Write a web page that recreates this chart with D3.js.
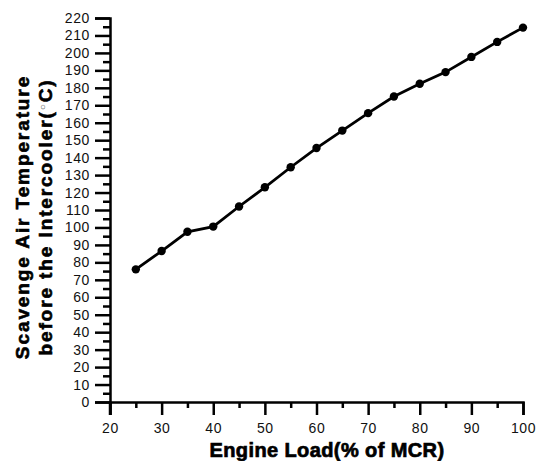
<!DOCTYPE html>
<html>
<head>
<meta charset="utf-8">
<script src="https://cdn.jsdelivr.net/npm/d3@7"></script>
<style>
  body { margin:0; background:#fff; }
  text { font-family: "Liberation Sans", Arial, sans-serif; }
</style>
</head>
<body>
<div id="chart"></div>
<script>
// data
var loads = [25, 30, 35, 40, 45, 50, 55, 60, 65, 70, 75, 80, 85, 90, 95, 100];
var temps = [76, 86.5, 97.5, 100.5, 112, 123, 134.5, 145.5, 155.5, 165.5, 175, 182.3, 189, 197.7, 206.3, 214.5];
var xTicks = [20, 30, 40, 50, 60, 70, 80, 90, 100];
var yTicks = [0, 10, 20, 30, 40, 50, 60, 70, 80, 90, 100, 110, 120, 130, 140, 150, 160, 170, 180, 190, 200, 210, 220];

var width, height, svg, g, xscale, yscale, xAxis, yAxis;
width = 413;
height = 384;

svg = d3.select('#chart')
    .append('svg')
    .attr('width', 536)
    .attr('height', 461);

g = svg.append('g')
    .attr('transform', 'translate(110,18)');

// scales
xscale = d3.scaleLinear().domain([20, 100]).range([0, width]);
yscale = d3.scaleLinear().domain([0, 220]).range([height, 0]);

// minor ticks first (every 5)
g.append('g')
    .attr('class', 'axis x-minor')
    .attr('transform', 'translate(0,' + height + ')')
    .call(d3.axisBottom(xscale).tickValues(d3.range(25, 100, 10)).tickSize(6).tickFormat(''));

g.append('g')
    .attr('class', 'axis y-minor')
    .call(d3.axisLeft(yscale).tickValues(d3.range(5, 220, 10)).tickSize(7).tickFormat(''));

xAxis = d3.axisBottom(xscale)
    .tickValues(xTicks)
    .tickSize(13)
    .tickPadding(8);

yAxis = d3.axisLeft(yscale)
    .tickValues(yTicks)
    .tickSize(15)
    .tickPadding(5);

g.append('g')
    .attr('class', 'axis x-axis')
    .attr('transform', 'translate(0,' + height + ')')
    .call(xAxis);

g.append('g')
    .attr('class', 'axis y-axis')
    .call(yAxis);

g.selectAll('.axis path.domain')
    .attr('stroke', '#000')
    .attr('stroke-width', 2.5);
g.selectAll('.axis .tick line')
    .attr('stroke', '#000')
    .attr('stroke-width', 2.5);
g.selectAll('.x-minor path, .y-minor path').remove();
g.selectAll('.axis .tick text')
    .attr('fill', '#111')
    .style('font-size', '14px')
    .style('letter-spacing', '0.6px');

// y axis runs down past the x axis to meet the 20 tick
g.append('line')
    .attr('x1', 0).attr('x2', 0)
    .attr('y1', height).attr('y2', height + 13)
    .attr('stroke', '#000')
    .attr('stroke-width', 2.5);

// line + markers
var pts = loads.map(function(d, i){ return [d, temps[i]]; });
var line = d3.line()
    .x(function(d){ return xscale(d[0]); })
    .y(function(d){ return yscale(d[1]); });

g.append('path')
    .datum(pts)
    .attr('d', line)
    .attr('fill', 'none')
    .attr('stroke', '#000')
    .attr('stroke-width', 2.8);

g.selectAll('circle')
    .data(pts)
    .enter()
    .append('circle')
    .attr('cx', function(d){ return xscale(d[0]); })
    .attr('cy', function(d){ return yscale(d[1]); })
    .attr('r', 4.2)
    .attr('fill', '#000');

// axis titles
svg.append('text')
    .attr('x', 327)
    .attr('y', 457)
    .attr('text-anchor', 'middle')
    .style('font-size', '20px')
    .style('font-weight', 'bold')
    .style('letter-spacing', '0.4px')
    .attr('stroke', '#000')
    .attr('stroke-width', 0.7)
    .text('Engine Load(% of MCR)');

var yt = svg.append('text')
    .attr('transform', 'translate(0,217) rotate(-90)')
    .attr('text-anchor', 'middle')
    .style('font-size', '19px')
    .style('font-weight', 'bold')
    .style('letter-spacing', '1.9px')
    .attr('stroke', '#000')
    .attr('stroke-width', 0.6);

yt.append('tspan')
    .attr('x', 0)
    .attr('y', 29)
    .text('Scavenge Air Temperature');

var t2 = yt.append('tspan')
    .attr('x', 0)
    .attr('y', 52)
    .text('before the Intercooler(');
t2.append('tspan')
    .style('font-size', '10px')
    .style('font-weight', 'normal')
    .attr('stroke-width', 0)
    .attr('fill', '#555')
    .attr('dy', -6)
    .text('\u25CB');
t2.append('tspan')
    .attr('dy', 6)
    .text('C)');
</script>
</body>
</html>
